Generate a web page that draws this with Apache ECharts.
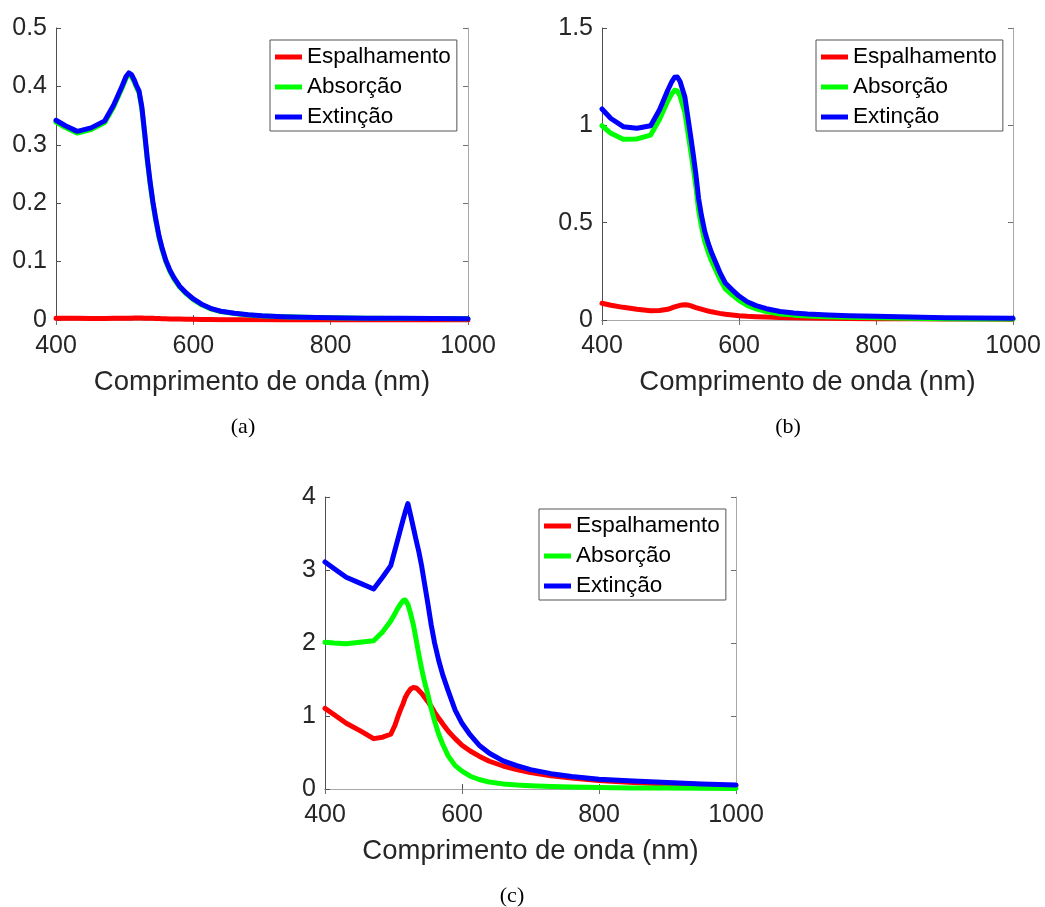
<!DOCTYPE html>
<html>
<head>
<meta charset="utf-8">
<script src="https://cdn.jsdelivr.net/npm/echarts@6/dist/echarts.min.js"></script>
<style>
html,body{margin:0;padding:0;background:#fff;}
#chart{width:1045px;height:907px;}
</style>
</head>
<body>
<div id="chart"></div>
<script>
// Wavelength samples (nm)
const wavelengths = [400, 413, 431, 451, 471, 484, 496, 502, 506, 510, 514, 517, 521, 525, 529, 533, 537, 541, 545, 550, 555, 560, 566, 572, 580, 590, 600, 612, 625, 640, 660, 680, 700, 730, 760, 800, 850, 900, 950, 1000];

// (a)
const aScattering = [0.003, 0.0029, 0.0028, 0.0027, 0.0027, 0.0028, 0.0029, 0.003, 0.0031, 0.0032, 0.0033, 0.0033, 0.0033, 0.0033, 0.0032, 0.0031, 0.003, 0.0028, 0.0027, 0.0025, 0.0023, 0.0021, 0.0019, 0.0017, 0.0015, 0.0013, 0.0011, 0.0009, 0.0008, 0.0006, 0.0005, 0.0004, 0.0003, 0.0002, 0.0002, 0.0001, 0.0001, 0.0001, 0.00006, 0.00005];
const aAbsorption = [0.339, 0.330, 0.320, 0.326, 0.338, 0.365, 0.397, 0.414, 0.420, 0.417, 0.408, 0.399, 0.389, 0.362, 0.319, 0.273, 0.234, 0.200, 0.172, 0.1415, 0.119, 0.100, 0.083, 0.070, 0.0565, 0.0447, 0.0349, 0.0261, 0.0192, 0.0144, 0.011, 0.0086, 0.0069, 0.0054, 0.0045, 0.0038, 0.0031, 0.0027, 0.0024, 0.0022];
const aExtinction = [0.342, 0.333, 0.323, 0.329, 0.341, 0.368, 0.400, 0.417, 0.423, 0.420, 0.411, 0.402, 0.392, 0.365, 0.322, 0.276, 0.237, 0.203, 0.175, 0.144, 0.121, 0.102, 0.085, 0.072, 0.058, 0.046, 0.036, 0.027, 0.020, 0.015, 0.0115, 0.009, 0.0072, 0.0056, 0.0047, 0.0039, 0.0032, 0.0028, 0.0025, 0.0022];

// (b)
const bScattering = [0.086, 0.076, 0.065, 0.055, 0.048, 0.049, 0.055, 0.062, 0.067, 0.071, 0.075, 0.077, 0.078, 0.077, 0.074, 0.069, 0.064, 0.060, 0.056, 0.051, 0.046, 0.042, 0.038, 0.034, 0.030, 0.026, 0.022, 0.019, 0.017, 0.015, 0.013, 0.011, 0.010, 0.009, 0.008, 0.007, 0.006, 0.005, 0.005, 0.004];
const bAbsorption = [0.998, 0.959, 0.928, 0.930, 0.950, 1.031, 1.125, 1.163, 1.180, 1.177, 1.150, 1.113, 1.067, 0.973, 0.881, 0.787, 0.686, 0.565, 0.484, 0.404, 0.349, 0.303, 0.257, 0.211, 0.160, 0.129, 0.101, 0.075, 0.057, 0.043, 0.031, 0.025, 0.021, 0.017, 0.014, 0.012, 0.009, 0.007, 0.005, 0.005];
const bExtinction = [1.084, 1.035, 0.993, 0.985, 0.998, 1.080, 1.180, 1.225, 1.247, 1.248, 1.225, 1.190, 1.145, 1.050, 0.955, 0.856, 0.750, 0.625, 0.540, 0.455, 0.395, 0.345, 0.295, 0.245, 0.190, 0.155, 0.123, 0.094, 0.074, 0.058, 0.044, 0.036, 0.031, 0.026, 0.022, 0.019, 0.015, 0.012, 0.010, 0.009];

// (c)
const cScattering = [1.105, 1.02, 0.9, 0.8, 0.69, 0.71, 0.75, 0.87, 0.98, 1.08, 1.17, 1.25, 1.32, 1.37, 1.39, 1.385, 1.35, 1.31, 1.26, 1.2, 1.13, 1.05, 0.97, 0.89, 0.79, 0.69, 0.6, 0.52, 0.45, 0.38, 0.315, 0.265, 0.225, 0.18, 0.15, 0.115, 0.09, 0.07, 0.055, 0.045];
const cAbsorption = [2.01, 2.0, 1.99, 2.01, 2.03, 2.15, 2.3, 2.4, 2.47, 2.53, 2.58, 2.59, 2.53, 2.4, 2.25, 2.05, 1.84, 1.65, 1.48, 1.3, 1.1, 0.93, 0.75, 0.61, 0.45, 0.32, 0.245, 0.175, 0.13, 0.095, 0.07, 0.055, 0.045, 0.034, 0.027, 0.02, 0.015, 0.012, 0.01, 0.008];
const cExtinction = [3.11, 3.02, 2.9, 2.82, 2.74, 2.9, 3.06, 3.27, 3.41, 3.55, 3.69, 3.79, 3.91, 3.75, 3.58, 3.41, 3.25, 3.06, 2.83, 2.55, 2.25, 2.0, 1.76, 1.56, 1.34, 1.08, 0.9, 0.74, 0.6, 0.49, 0.385, 0.32, 0.265, 0.21, 0.17, 0.135, 0.11, 0.09, 0.07, 0.055];

const seriesNames = ['Espalhamento', 'Absorção', 'Extinção'];
const seriesColors = ['#ff0000', '#00ff00', '#0000ff'];
const xTicks = {min: 400, max: 1000, interval: 200};
const yRanges = [
  {min: 0, max: 0.5, interval: 0.1},
  {min: 0, max: 1.5, interval: 0.5},
  {min: 0, max: 4, interval: 1}
];
const captions = ['(a)', '(b)', '(c)'];
const xTitle = 'Comprimento de onda (nm)';

const panels = [
  [aScattering, aAbsorption, aExtinction],
  [bScattering, bAbsorption, bExtinction],
  [cScattering, cAbsorption, cExtinction]
];

const FONT = '"Liberation Sans", Arial, Helvetica, sans-serif';
const TXT = '#262626';
const grids = [
  {left: 56, top: 28, width: 412, height: 292},
  {left: 602, top: 28, width: 411, height: 292},
  {left: 325, top: 497, width: 411, height: 292}
];
const legendPos = [
  {left: 270, top: 40},
  {left: 816, top: 40},
  {left: 539, top: 509}
];
const captionPos = [[243, 427], [788, 427], [512, 896]];

const fmt = v => String(+v.toFixed(4));

const xAxes = [], yAxes = [], series = [], legends = [], graphics = [];
grids.forEach((g, i) => {
  xAxes.push({
    type: 'value', gridIndex: i, position: 'bottom',
    min: xTicks.min, max: xTicks.max, interval: xTicks.interval,
    name: xTitle, nameLocation: 'middle', nameGap: 48,
    nameTextStyle: {fontFamily: FONT, fontSize: 27.5, color: TXT},
    axisLine: {show: true, lineStyle: {color: '#505050', width: 1}},
    axisTick: {show: true, inside: true, length: 5, lineStyle: {color: '#505050'}},
    axisLabel: {fontFamily: FONT, fontSize: 25, color: TXT, margin: 14, formatter: fmt},
    splitLine: {show: false}
  });
  xAxes.push({
    type: 'value', gridIndex: i, position: 'top',
    min: xTicks.min, max: xTicks.max, interval: xTicks.interval,
    axisLine: {show: true, lineStyle: {color: '#a8a8a8', width: 1}},
    axisTick: {show: true, inside: true, length: 5, lineStyle: {color: '#707070'}},
    axisLabel: {show: false},
    splitLine: {show: false}
  });
  yAxes.push({
    type: 'value', gridIndex: i, position: 'left',
    min: yRanges[i].min, max: yRanges[i].max, interval: yRanges[i].interval,
    axisLine: {show: true, lineStyle: {color: '#505050', width: 1}},
    axisTick: {show: true, inside: true, length: 5, lineStyle: {color: '#505050'}},
    axisLabel: {fontFamily: FONT, fontSize: 25, color: TXT, margin: 9, formatter: fmt},
    splitLine: {show: false}
  });
  yAxes.push({
    type: 'value', gridIndex: i, position: 'right',
    min: yRanges[i].min, max: yRanges[i].max, interval: yRanges[i].interval,
    axisLine: {show: true, lineStyle: {color: '#a8a8a8', width: 1}},
    axisTick: {show: true, inside: true, length: 5, lineStyle: {color: '#707070'}},
    axisLabel: {show: false},
    splitLine: {show: false}
  });
  panels[i].forEach((vals, k) => {
    series.push({
      type: 'line', name: seriesNames[k],
      xAxisIndex: 2 * i, yAxisIndex: 2 * i,
      data: wavelengths.map((w, j) => [w, vals[j]]),
      showSymbol: false, symbol: 'none', smooth: false,
      color: seriesColors[k],
      itemStyle: {color: seriesColors[k]},
      lineStyle: {color: seriesColors[k], width: 5, join: 'round', cap: 'round'},
      animation: false, z: 2 + k
    });
  });
  legends.push({
    orient: 'vertical', left: legendPos[i].left, top: legendPos[i].top,
    padding: [5, 6, 2, 5], itemWidth: 27, itemHeight: 5, itemGap: 6,
    icon: 'rect', borderColor: '#555', borderWidth: 1, backgroundColor: '#fff',
    textStyle: {fontFamily: FONT, fontSize: 22.5, color: '#000', lineHeight: 24},
    selectedMode: false,
    data: seriesNames
  });
  graphics.push({
    type: 'text', x: captionPos[i][0], y: captionPos[i][1],
    style: {text: captions[i], font: '22px "Liberation Serif", "Times New Roman", serif',
      fill: '#000', textAlign: 'center', textVerticalAlign: 'middle'}
  });
});

const chart = echarts.init(document.getElementById('chart'));
chart.setOption({
  animation: false,
  backgroundColor: '#fff',
  grid: grids,
  xAxis: xAxes,
  yAxis: yAxes,
  series: series,
  legend: legends,
  graphic: graphics
});
</script>
</body>
</html>
